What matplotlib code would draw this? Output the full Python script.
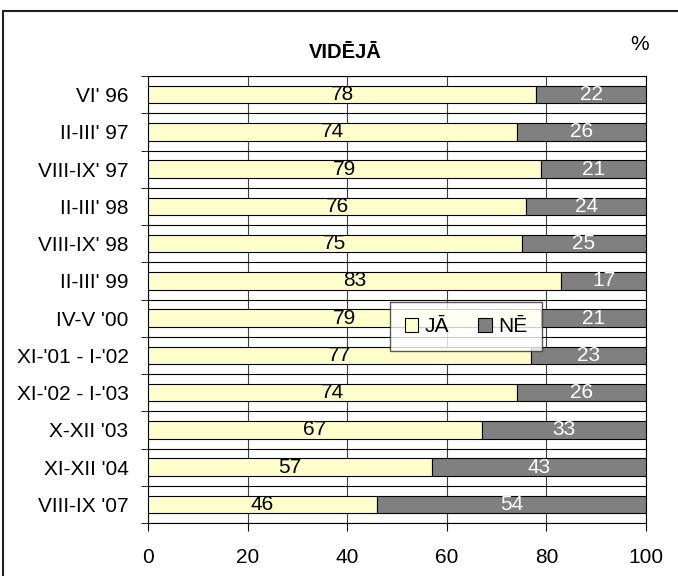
import matplotlib
matplotlib.use("Agg")
import matplotlib.pyplot as plt
from matplotlib.patches import Rectangle
import numpy as np

categories = ["VI' 96", "II-III' 97", "VIII-IX' 97", "II-III' 98", "VIII-IX' 98",
              "II-III' 99", "IV-V '00", "XI-'01 - I-'02", "XI-'02 - I-'03",
              "X-XII '03", "XI-XII '04", "VIII-IX '07"]
ja = [78, 74, 79, 76, 75, 83, 79, 77, 74, 67, 57, 46]
ne = [22, 26, 21, 24, 25, 17, 21, 23, 26, 33, 43, 54]
xticks = [0, 20, 40, 60, 80, 100]

plt.rcParams['font.family'] = ['Liberation Sans', 'DejaVu Sans']
FS = 15

W, H = 678, 576
fig = plt.figure(figsize=(W/100, H/100), dpi=100)
fig.patches.append(Rectangle((3/W, -0.05), 1.2, 1 - 11/H + 0.05, transform=fig.transFigure,
                             fill=False, edgecolor='#202020', linewidth=1.5))
ax = fig.add_axes([148/W, 1-523/H, (646-148)/W, (523-76)/H])

y = np.arange(len(categories))
h = 0.465
ax.barh(y, ja, height=h, color='#FFFFCC', edgecolor='black', linewidth=0.8, label='JĀ', zorder=3)
ax.barh(y, ne, left=ja, height=h, color='#808080', edgecolor='black', linewidth=0.8, label='NĒ', zorder=3)

for i in range(len(categories)):
    ax.text(ja[i]/2, y[i], str(ja[i]), ha='center', va='center', fontsize=FS, color='black', zorder=4)
    ax.text(ja[i] + ne[i]/2, y[i], str(ne[i]), ha='center', va='center', fontsize=FS, color='white', zorder=4)

ax.set_xlim(0, 100)
ax.set_ylim(len(categories)-0.5, -0.5)
ax.set_xticks(xticks)
ax.set_xticklabels([str(t) for t in xticks], fontsize=FS)
ax.set_yticks(y)
ax.set_yticklabels(categories, fontsize=FS)
ax.tick_params(axis='y', length=0, pad=14)
ax.tick_params(axis='x', length=6, direction='out', pad=12)
bounds = np.arange(len(categories)+1) - 0.5
ax.set_yticks(bounds, minor=True)
ax.tick_params(axis='y', which='minor', length=5, direction='out')
ax.grid(axis='y', which='minor', color='black', linewidth=0.8, zorder=1)
ax.grid(axis='x', which='major', color='#404040', linewidth=0.8, zorder=1)
for s in ax.spines.values():
    s.set_linewidth(0.8)

fig.text(345/W, 1-52/H, 'VIDĒJĀ', ha='center', va='center', fontsize=14.5, fontweight='bold')
fig.text(640/W, 1-44/H, '%', ha='center', va='center', fontsize=FS)

leg = ax.legend(loc='center', bbox_to_anchor=((466-148)/498, 1-(326.5-76)/447), ncol=2,
                fontsize=FS, frameon=True, fancybox=False, edgecolor='#303030',
                handlelength=0.65, handleheight=0.65, columnspacing=1.4, handletextpad=0.3,
                borderpad=0.7, borderaxespad=0)
leg.get_frame().set_linewidth(1.0)
leg.set_zorder(5)

fig.savefig('out.png', dpi=100)
